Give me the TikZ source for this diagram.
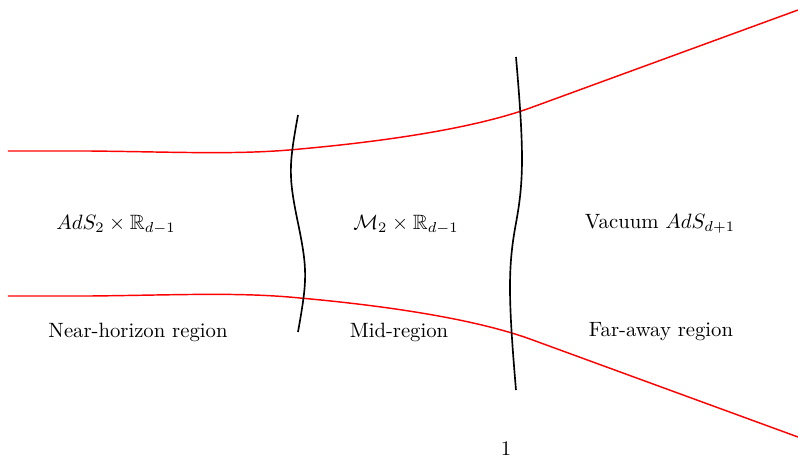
\documentclass[tikz,border=0pt]{standalone}
\usepackage{amssymb}
\begin{document}
\begin{tikzpicture}[x=0.483pt,y=-0.483pt,
  brane/.style={red,line width=0.7pt},
  wall/.style={black,line width=0.8pt},
  lbl/.style={inner sep=0pt,anchor=center}]
\useasboundingbox (0,0) rectangle (798,457);
% red boundaries
\draw[brane] (8,151) -- (90,151) .. controls (180,152) and (240,155) .. (300,149)
  .. controls (400,140) and (480,126) .. (530,108) -- (798,10);
\draw[brane] (8,296) -- (90,296) .. controls (180,295) and (240,292) .. (300,298)
  .. controls (400,307) and (480,321) .. (530,339) -- (798,437);
% black walls
\draw[wall] (298,115) .. controls (289,165) and (288,175) .. (298,223)
  .. controls (308,271) and (307,281) .. (298,332);
\draw[wall] (516,57) .. controls (524,150) and (524,180) .. (516,223)
  .. controls (508,266) and (508,296) .. (516,390);
% labels
\node[lbl] (a) at (116,225) {$AdS_2\times\mathbb{R}_{d-1}$};
\node[lbl] (b) at (406,225) {$\mathcal{M}_2\times\mathbb{R}_{d-1}$};
\node[lbl] (c) at (660,224) {Vacuum $AdS_{d+1}$};
\node[lbl] (d) at (138,332) {Near-horizon region};
\node[lbl] (e) at (399,332) {Mid-region};
\node[lbl] (f) at (661,332) {Far-away region};
\node[lbl] (g) at (506,449) {1};
\end{tikzpicture}
\end{document}
